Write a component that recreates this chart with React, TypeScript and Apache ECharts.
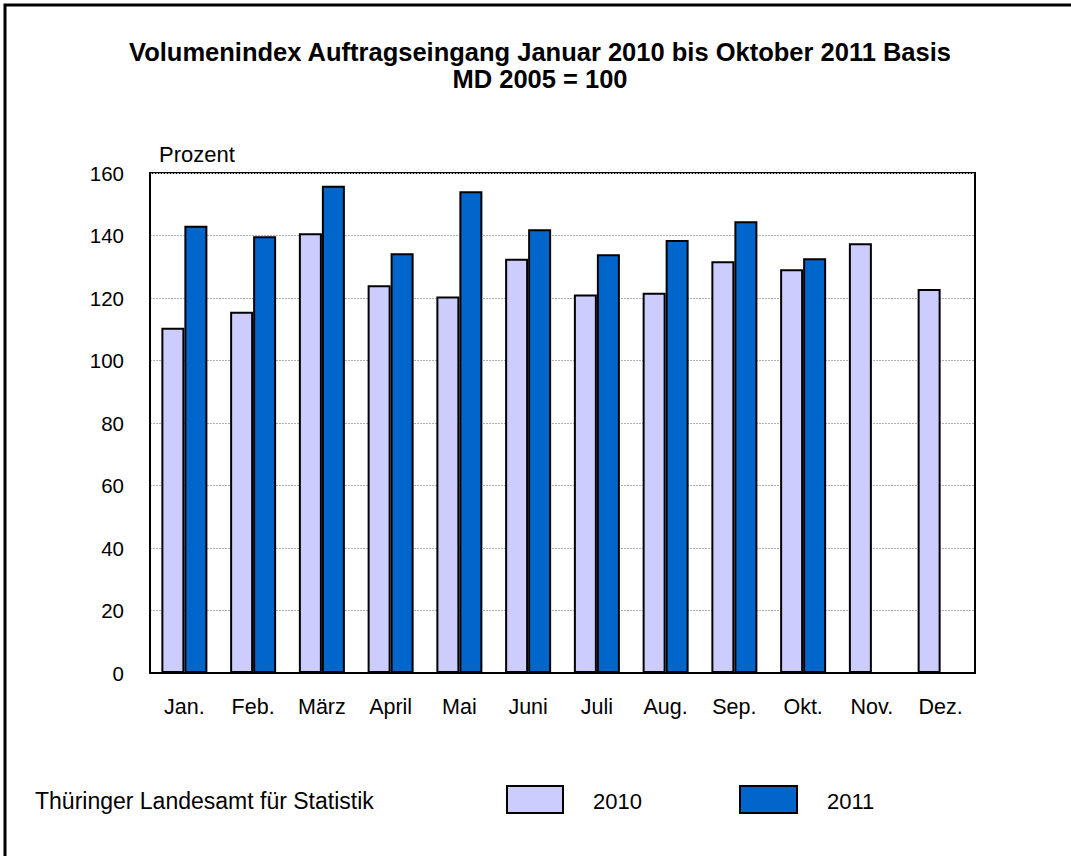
import React, { useEffect, useRef } from "react";
import * as echarts from "echarts";

const months = ["Jan.", "Feb.", "März", "April", "Mai", "Juni", "Juli", "Aug.", "Sep.", "Okt.", "Nov.", "Dez."];
const values2010 = [110.5, 115.6, 140.7, 124.1, 120.5, 132.6, 121.1, 121.7, 131.8, 129.2, 137.5, 122.9];
const values2011: (number | null)[] = [143.1, 139.8, 155.9, 134.3, 154.2, 142.0, 134.0, 138.6, 144.6, 132.7, null, null];
const yTicks = { min: 0, max: 160, interval: 20 };
const titleLines = ["Volumenindex Auftragseingang Januar 2010 bis Oktober 2011 Basis", "MD 2005 = 100"];
const legendNames = ["2010", "2011"];
const colors = ["#CCCCFF", "#0066CC"];

const FONT = "Arial, 'Liberation Sans', sans-serif";

export default function App() {
  const ref = useRef<HTMLDivElement>(null);
  useEffect(() => {
    if (!ref.current) return;
    const chart = echarts.init(ref.current, undefined, { renderer: "svg" });
    chart.setOption({
      animation: false,
      backgroundColor: "#ffffff",
      textStyle: { fontFamily: FONT },
      title: {
        text: titleLines.join("\n"),
        left: 535,
        top: 33,
        textAlign: "center",
        textStyle: { fontFamily: FONT, fontSize: 25.5, fontWeight: "bold", color: "#000", lineHeight: 27 },
      },
      grid: {
        left: 150,
        top: 173,
        width: 825,
        height: 500,
        show: true,
        borderColor: "#000",
        borderWidth: 2,
        containLabel: false,
      },
      xAxis: {
        type: "category",
        data: months,
        axisLine: { lineStyle: { color: "#000", width: 2 } },
        axisTick: { show: false },
        axisLabel: { fontFamily: FONT, fontSize: 21.5, color: "#000", margin: 23 },
      },
      yAxis: {
        type: "value",
        min: yTicks.min,
        max: yTicks.max,
        interval: yTicks.interval,
        axisLine: { show: true, lineStyle: { color: "#000", width: 2 } },
        axisTick: { show: false },
        axisLabel: { fontFamily: FONT, fontSize: 20.5, color: "#000", margin: 26 },
        splitLine: { show: true, lineStyle: { color: "#b0b0b0", width: 1, type: [2, 1] } },
      },
      series: [
        {
          name: legendNames[0],
          type: "bar",
          data: values2010,
          barWidth: 23,
          barGap: "0%",
          itemStyle: { color: colors[0], borderColor: "#000", borderWidth: 2 },
        },
        {
          name: legendNames[1],
          type: "bar",
          data: values2011,
          barWidth: 23,
          barGap: "0%",
          itemStyle: { color: colors[1], borderColor: "#000", borderWidth: 2 },
        },
      ],
      graphic: [
        {
          type: "rect",
          shape: { x: 5, y: 5, width: 1200, height: 1000 },
          style: { fill: "none", stroke: "#000", lineWidth: 3 },
          silent: true,
        },
        {
          type: "text",
          x: 159,
          y: 154,
          style: { text: "Prozent", fontFamily: FONT, fontSize: 22, fill: "#000", verticalAlign: "middle" },
        },
        {
          type: "text",
          x: 35,
          y: 801,
          style: { text: "Thüringer Landesamt für Statistik", fontFamily: FONT, fontSize: 23, fill: "#000", verticalAlign: "middle" },
        },
        {
          type: "rect",
          shape: { x: 507, y: 786, width: 56, height: 27 },
          style: { fill: colors[0], stroke: "#000", lineWidth: 2 },
        },
        {
          type: "text",
          x: 593,
          y: 801,
          style: { text: legendNames[0], fontFamily: FONT, fontSize: 22, fill: "#000", verticalAlign: "middle" },
        },
        {
          type: "rect",
          shape: { x: 740, y: 786, width: 57, height: 27 },
          style: { fill: colors[1], stroke: "#000", lineWidth: 2 },
        },
        {
          type: "text",
          x: 827,
          y: 801,
          style: { text: legendNames[1], fontFamily: FONT, fontSize: 22, fill: "#000", verticalAlign: "middle" },
        },
      ],
    });
    return () => chart.dispose();
  }, []);
  return (
    <div
      ref={ref}
      style={{ position: "absolute", left: 0, top: 0, width: 1071, height: 856 }}
    />
  );
}
